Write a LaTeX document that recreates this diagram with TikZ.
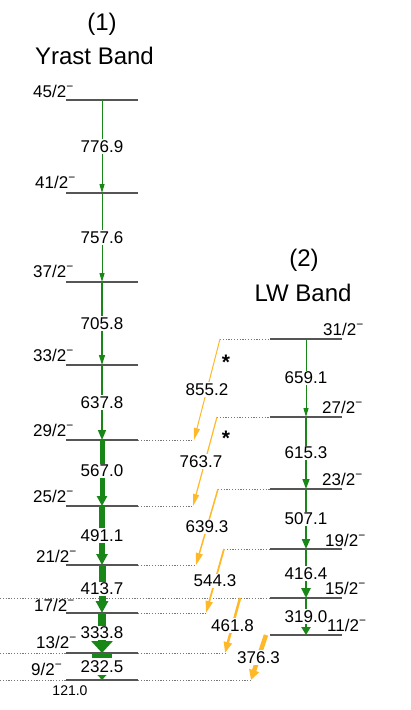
\documentclass[tikz,border=0pt]{standalone}
\usepackage{fontspec}
\setmainfont{Liberation Sans}
\usetikzlibrary{arrows.meta}
\definecolor{grn}{RGB}{24,135,24}
\definecolor{org}{RGB}{255,184,40}
\definecolor{lvlgray}{RGB}{85,85,85}
\definecolor{dotgray}{RGB}{120,120,120}
\newcommand{\spn}[1]{#1\textsuperscript{−}}
\begin{document}
\begin{tikzpicture}[x=1pt,y=-1pt,
  lvl/.style={draw=lvlgray,line width=1.3pt},
  dots/.style={draw=dotgray,line width=0.9pt,dash pattern=on 1.2pt off 1.6pt},
  gtr/.style n args={3}{draw=grn,line width=#1,-{Triangle[width=#2,length=#3]}},
  otr/.style n args={3}{draw=org,line width=#1,-{Triangle[width=#2,length=#3]}},
  elab/.style={fill=white,inner sep=1.2pt,font=\fontsize{17}{17}\selectfont},
  spin/.style={anchor=base west,inner sep=0pt,font=\fontsize{17}{17}\selectfont},
  ttl/.style={inner sep=0pt,font=\fontsize{24}{24}\selectfont},
  star/.style={inner sep=0pt,font=\fontsize{21}{21}\selectfont\bfseries}]
\useasboundingbox (0,0) rectangle (410,710);

% titles
\node[ttl] (t1) at (102,24) {(1)};
\node[ttl,anchor=base] (t1b) at (94.5,64) {Yrast Band};
\node[ttl] (t2) at (304,260) {(2)};
\node[ttl,anchor=base] (t2b) at (303,301) {LW Band};

% level coordinates
\foreach \n/\yy in {45/100,41/193,37/282,33/365,29/440,25/506,21/565,17/613,13/653,9/680}{
  \coordinate (Y\n) at (102,\yy);
  \coordinate (Y\n L) at (66,\yy);
  \coordinate (Y\n R) at (138,\yy);
}
\foreach \n/\yy in {31/339,27/417,23/489,19/549,15/598,11/635}{
  \coordinate (L\n) at (306,\yy);
  \coordinate (L\n L) at (270,\yy);
  \coordinate (L\n R) at (342,\yy);
}
% interband start / end points
\coordinate (O31) at (220,339);
\coordinate (O27) at (217,417);
\coordinate (O23) at (218,489);
\coordinate (O19) at (224,549);
\coordinate (O15) at (240,598);
\coordinate (O11) at (266,635);
\coordinate (D29) at (194,440);
\coordinate (D25) at (193,506);
\coordinate (D21) at (196,565);
\coordinate (D17) at (206,613);
\coordinate (D13) at (225,653);
\coordinate (D9) at (251,680);
\coordinate (Z15) at (0,598);
\coordinate (Z13) at (0,653);
\coordinate (Z9) at (0,680);

% dotted extensions
\draw[dots] (Y29R) -- (D29);
\draw[dots] (Y25R) -- (D25);
\draw[dots] (Y21R) -- (D21);
\draw[dots] (Y17R) -- (D17);
\draw[dots] (Y13R) -- (D13);
\draw[dots] (Y9R) -- (D9);
\draw[dots] (Z13) -- (Y13L);
\draw[dots] (Z9) -- (Y9L);
\draw[dots] (Z15) -- (L15L);
\draw[dots] (O31) -- (L31L);
\draw[dots] (O27) -- (L27L);
\draw[dots] (O23) -- (L23L);
\draw[dots] (O19) -- (L19L);

% levels
\foreach \n in {45,41,37,33,29,25,21,17,13,9}{\draw[lvl] (Y\n L) -- (Y\n R);}
\foreach \n in {31,27,23,19,15,11}{\draw[lvl] (L\n L) -- (L\n R);}

% spin labels
\node[spin] (s45) at (33,97) {\spn{45/2}};
\node[spin] (s41) at (35,188) {\spn{41/2}};
\node[spin] (s37) at (33,277) {\spn{37/2}};
\node[spin] (s33) at (33,361) {\spn{33/2}};
\node[spin] (s29) at (33,436) {\spn{29/2}};
\node[spin] (s25) at (33,502) {\spn{25/2}};
\node[spin] (s21) at (36,562) {\spn{21/2}};
\node[spin] (s17) at (34,611) {\spn{17/2}};
\node[spin] (s13) at (36,648) {\spn{13/2}};
\node[spin] (s9) at (31,675) {\spn{9/2}};
\node[spin] (s31) at (323,335) {\spn{31/2}};
\node[spin] (s27) at (322,413) {\spn{27/2}};
\node[spin] (s23) at (322,485) {\spn{23/2}};
\node[spin] (s19) at (325,546) {\spn{19/2}};
\node[spin] (s15) at (325,594) {\spn{15/2}};
\node[spin] (s11) at (327,631) {\spn{11/2}};

% yrast band transitions
\draw[gtr={1pt}{5pt}{9pt}] (Y45) -- node[elab]{776.9} (Y41);
\draw[gtr={1pt}{5pt}{9pt}] (Y41) -- node[elab]{757.6} (Y37);
\draw[gtr={1.3pt}{6pt}{10pt}] (Y37) -- node[elab]{705.8} (Y33);
\draw[gtr={1.6pt}{8pt}{10pt}] (Y33) -- node[elab]{637.8} (Y29);
\draw[gtr={5pt}{10pt}{10pt}] (Y29) -- node[elab,yshift=2pt]{567.0} (Y25);
\draw[gtr={6pt}{11pt}{11pt}] (Y25) -- node[elab]{491.1} (Y21);
\draw[gtr={7pt}{12pt}{12pt}] (Y21) -- node[elab]{413.7} (Y17);
\draw[gtr={8pt}{21pt}{12pt}] (Y17) -- node[elab]{333.8} (Y13);
\draw[gtr={20pt}{21pt}{12pt}] (Y13) -- node[elab,inner ysep=2.6pt]{232.5} (Y9);
\node[font=\fontsize{14}{14}\selectfont] (e121) at (70,691) {121.0};

% LW band transitions
\draw[gtr={1pt}{5pt}{9pt}] (L31) -- node[elab]{659.1} (L27);
\draw[gtr={1.5pt}{7pt}{10pt}] (L27) -- node[elab]{615.3} (L23);
\draw[gtr={2pt}{8pt}{10pt}] (L23) -- node[elab]{507.1} (L19);
\draw[gtr={2.5pt}{9pt}{10pt}] (L19) -- node[elab]{416.4} (L15);
\draw[gtr={2pt}{9pt}{8pt}] (L15) -- node[elab]{319.0} (L11);

% interband transitions
\draw[otr={1pt}{6pt}{12pt}] (O31) -- node[elab]{855.2} (D29);
\draw[otr={1.2pt}{6pt}{12pt}] (O27) -- node[elab,xshift=-4pt]{763.7} (D25);
\draw[otr={1.5pt}{7pt}{12pt}] (O23) -- node[elab]{639.3} (D21);
\draw[otr={1.8pt}{7pt}{12pt}] (O19) -- node[elab]{544.3} (D17);
\draw[otr={2.5pt}{8pt}{11pt}] (O15) -- node[elab]{461.8} (D13);
\draw[otr={4.5pt}{10pt}{10pt}] (O11) -- node[elab]{376.3} (D9);

% asterisks
\node[star] (a1) at (226,362) {*};
\node[star] (a2) at (226,438) {*};
\end{tikzpicture}
\end{document}
